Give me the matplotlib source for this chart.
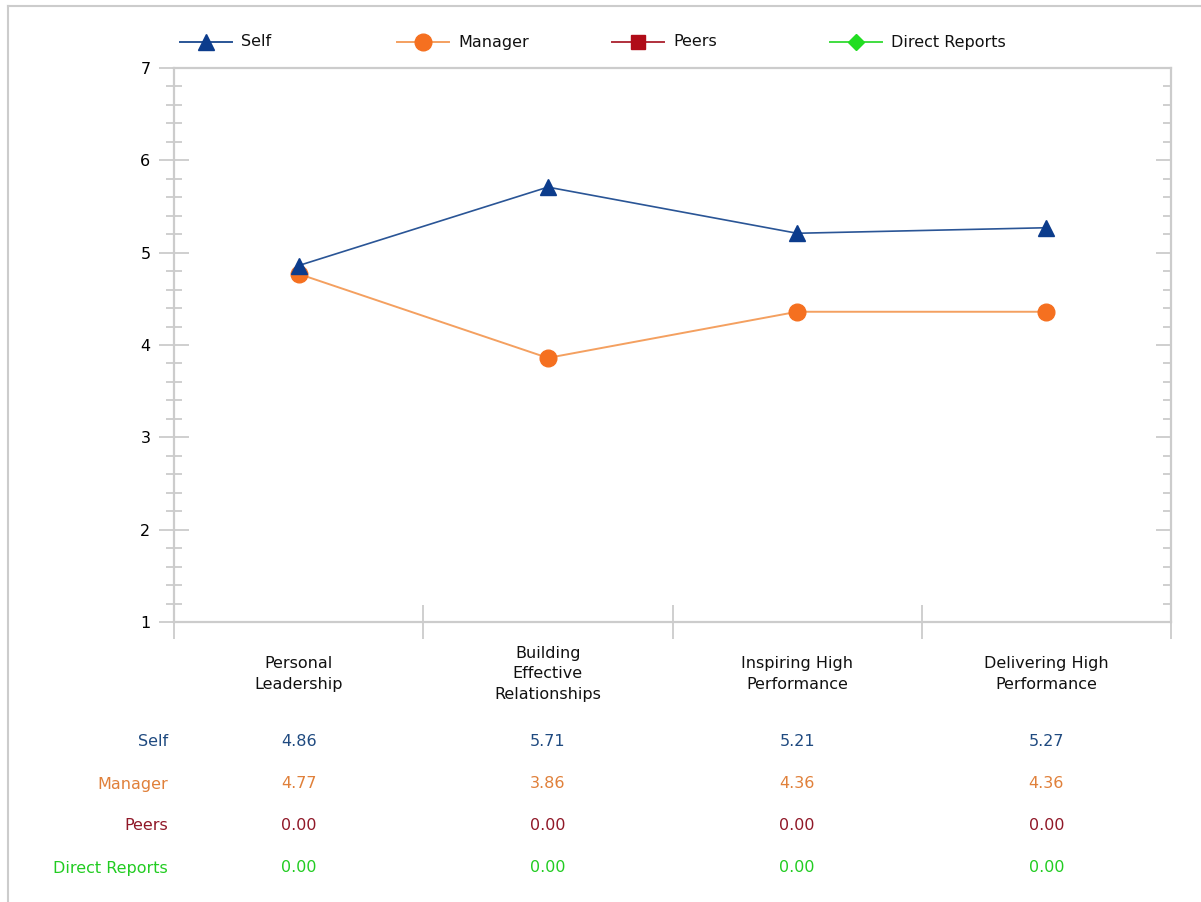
#!/usr/bin/env python3
# 360 feedback summary - line chart with values table underneath

import matplotlib
matplotlib.use("Agg")
import matplotlib.pyplot as plt
from matplotlib.lines import Line2D
from matplotlib.ticker import MultipleLocator
import matplotlib.transforms as mtransforms

categories = ["Personal\nLeadership", "Building\nEffective\nRelationships",
              "Inspiring High\nPerformance", "Delivering High\nPerformance"]
series_names = ["Self", "Manager", "Peers", "Direct Reports"]
self_scores = [4.86, 5.71, 5.21, 5.27]
manager_scores = [4.77, 3.86, 4.36, 4.36]
peers_scores = [0.00, 0.00, 0.00, 0.00]
direct_scores = [0.00, 0.00, 0.00, 0.00]

line_colors = ["#2a5596", "#f4a060", "#b0303c", "#40dd40"]
marker_colors = ["#0c3c8c", "#f57020", "#b00c18", "#22dd22"]
text_colors = ["#1f4a80", "#e0803a", "#901828", "#22cc22"]
markers = ["^", "o", "s", "D"]
grey = "#cccccc"

plt.rcParams["font.family"] = "DejaVu Sans"

fig = plt.figure(figsize=(12.01, 9.02), dpi=100)
ax = fig.add_axes([174 / 1201, 1 - 622 / 902, (1171 - 174) / 1201, (622 - 68) / 902])

x = list(range(len(categories)))
ax.plot(x, self_scores, color=line_colors[0], lw=1.2, marker="^", ms=12,
        mfc=marker_colors[0], mec=marker_colors[0], zorder=4)
ax.plot(x, manager_scores, color=line_colors[1], lw=1.4, marker="o", ms=12,
        mfc=marker_colors[1], mec=marker_colors[1], zorder=3)

ax.set_xlim(-0.5, len(categories) - 0.5)
ax.set_ylim(1, 7)

for s in ax.spines.values():
    s.set_color(grey)
    s.set_linewidth(1.6)

ax.yaxis.set_major_locator(MultipleLocator(1))
ax.yaxis.set_minor_locator(MultipleLocator(0.2))
ax.tick_params(axis="y", which="major", direction="inout", length=22, width=1.3,
               color=grey, labelsize=11.5, pad=6)
ax.tick_params(axis="y", which="minor", direction="inout", length=12, width=1.3,
               color=grey)
ax.set_xticks([i - 0.5 for i in range(len(categories) + 1)])
ax.set_xticklabels([])
ax.tick_params(axis="x", which="major", direction="inout", length=24, width=1.3,
               color=grey)

# right-hand axis: inward ticks only
axr = ax.twinx()
axr.set_ylim(1, 7)
axr.yaxis.set_major_locator(MultipleLocator(1))
axr.yaxis.set_minor_locator(MultipleLocator(0.2))
axr.tick_params(axis="y", which="major", direction="in", length=11, width=1.3,
                color=grey, labelright=False)
axr.tick_params(axis="y", which="minor", direction="in", length=6, width=1.3,
                color=grey)
for s in axr.spines.values():
    s.set_visible(False)

# category labels under the axis
trans = mtransforms.blended_transform_factory(ax.transData, ax.transAxes)
for i, cat in enumerate(categories):
    ax.text(i, -52 / 554, cat, transform=trans, ha="center", va="center",
            fontsize=11.5, linespacing=1.45, color="#111111")

# values table
all_scores = [self_scores, manager_scores, peers_scores, direct_scores]
row_y = [742, 784, 826, 868]
for r, name in enumerate(series_names):
    yy = -(row_y[r] - 622) / 554
    fig.text(168 / 1201, 1 - row_y[r] / 902, name, ha="right", va="center",
             fontsize=11.5, color=text_colors[r])
    for i, v in enumerate(all_scores[r]):
        ax.text(i, yy, "%.2f" % v, transform=trans, ha="center", va="center",
                fontsize=11.5, color=text_colors[r])

# legend across the top
leg_x = [180, 397, 612, 830]
for k, name in enumerate(series_names):
    x0 = leg_x[k] / 1201
    x1 = (leg_x[k] + 52) / 1201
    yl = 1 - 42 / 902
    fig.add_artist(Line2D([x0, x1], [yl, yl], color=line_colors[k], lw=1.4,
                          transform=fig.transFigure))
    fig.add_artist(Line2D([(x0 + x1) / 2], [yl], marker=markers[k],
                          ms=12 if k < 2 else 10 if k == 2 else 8,
                          color=marker_colors[k], transform=fig.transFigure))
    fig.text(x1 + 9 / 1201, yl, name, ha="left", va="center", fontsize=11.5,
             color="#111111")

# outer frame (top and left edges visible)
fig.add_artist(Line2D([8 / 1201, 1], [1 - 6 / 902, 1 - 6 / 902], color=grey,
                      lw=1.5, transform=fig.transFigure))
fig.add_artist(Line2D([8 / 1201, 8 / 1201], [0, 1 - 6 / 902], color=grey,
                      lw=1.5, transform=fig.transFigure))

fig.savefig("out.png", dpi=100)
